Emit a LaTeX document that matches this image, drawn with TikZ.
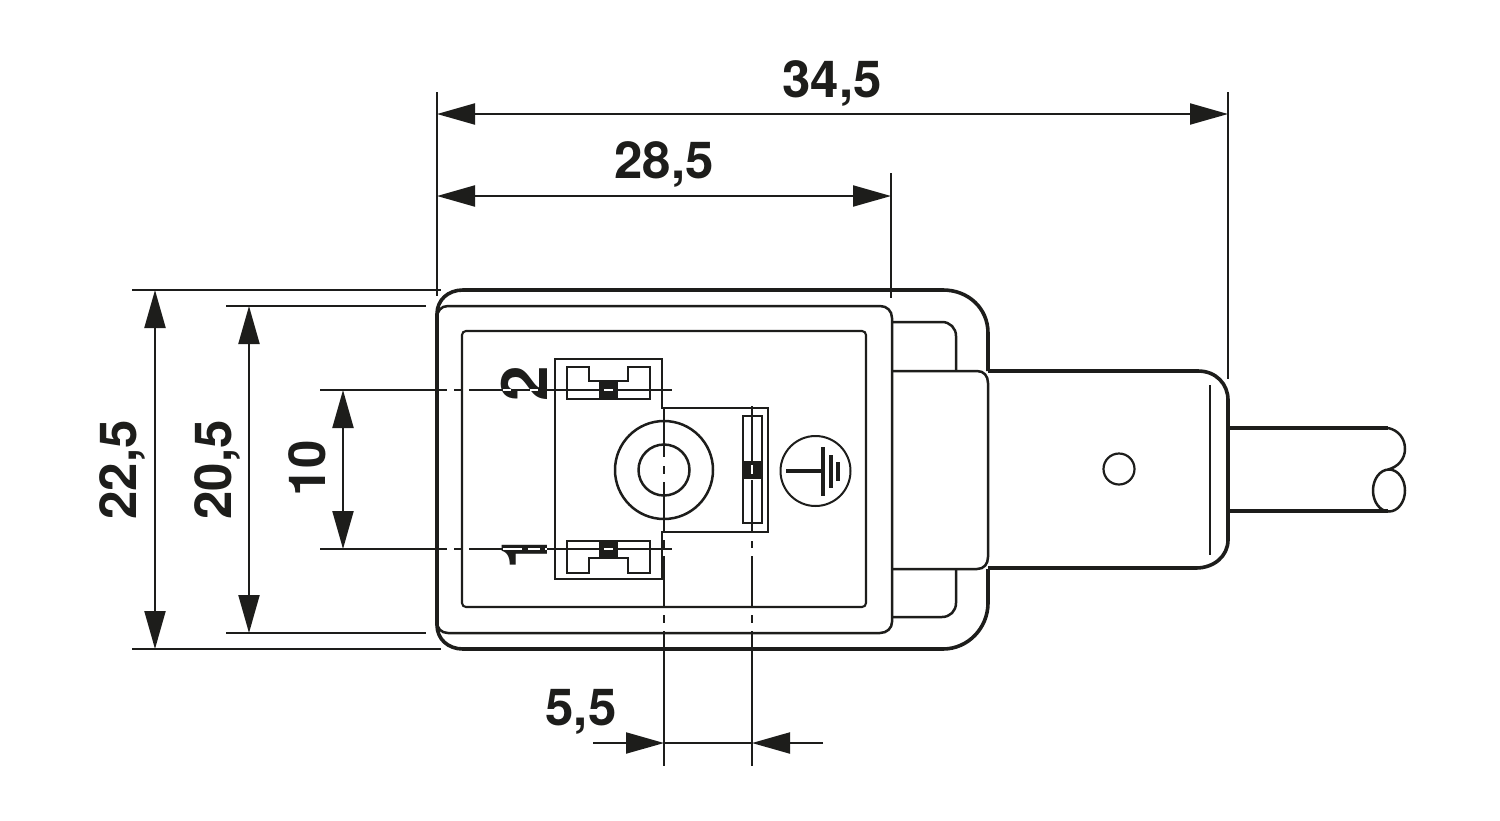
\documentclass[tikz,border=0pt]{standalone}
\usepackage{fontspec}
\setmainfont{TeX Gyre Heros}
\usetikzlibrary{arrows.meta}
\definecolor{ink}{HTML}{1D1D1B}
\newcommand{\dimfont}{\fontsize{51}{51}\selectfont\bfseries}
\newcommand{\pinfont}{\fontsize{64}{64}\selectfont\bfseries}
\tikzset{
  thickline/.style={draw=ink,line width=3.6pt},
  midline/.style={draw=ink,line width=2.5pt},
  thinline/.style={draw=ink,line width=2.1pt},
  dimline/.style={draw=ink,line width=2.1pt},
  dimtip/.style={{Triangle[length=38pt,width=21pt,color=ink]}-{Triangle[length=38pt,width=21pt,color=ink]},dimline,shorten >=0pt,shorten <=0pt},
  onetip/.style={-{Triangle[length=38pt,width=21pt,color=ink]},dimline},
  dimlabel/.style={font=\dimfont,text=ink,inner sep=0pt,anchor=base},
  pinlabel/.style={font=\pinfont,text=ink,inner sep=0pt,anchor=base,rotate=90},
  gapmark/.style={draw=white,line width=1.3pt},
}
\begin{document}
\begin{tikzpicture}[x=1pt,y=-1pt]
\useasboundingbox (0,0) rectangle (1500,820);
\fill[white] (0,0) rectangle (1500,820);

% ---- labels
\node[dimlabel] (L345) at (832,97) {34,5};
\node[dimlabel] (L285) at (664,178) {28,5};
\node[dimlabel] (L55) at (581,725) {5,5};
\node[dimlabel,rotate=90] (L225) at (136,470) {22,5};
\node[dimlabel,rotate=90] (L205) at (231,470) {20,5};
\node[dimlabel,rotate=90] (L10) at (325,468) {10};
\node[pinlabel] (P2) at (547.5,383.5) {2};
\node[pinlabel] (P1) at (547.5,552) {1};

% ---- named dimension points
\coordinate (xa) at (437,92);  \coordinate (xaa) at (437,296);
\coordinate (xb) at (891,173); \coordinate (xbb) at (891,298);
\coordinate (xc) at (1228,92); \coordinate (xcc) at (1228,379);
\coordinate (d1a) at (437,114); \coordinate (d1b) at (1228,114);
\coordinate (d2a) at (437,196); \coordinate (d2b) at (891,196);
\coordinate (e1a) at (132,290); \coordinate (e1b) at (441,290);
\coordinate (e2a) at (226,306); \coordinate (e2b) at (426,306);
\coordinate (e3a) at (226,633); \coordinate (e3b) at (426,633);
\coordinate (e4a) at (132,649); \coordinate (e4b) at (441,649);
\coordinate (v1a) at (155,290); \coordinate (v1b) at (155,649);
\coordinate (v2a) at (249,306); \coordinate (v2b) at (249,633);
\coordinate (v3a) at (343,390); \coordinate (v3b) at (343,549);
\coordinate (h1) at (593,743); \coordinate (h2) at (664,743);
\coordinate (h3) at (752,743); \coordinate (h4) at (823,743);

% ---- dimension lines
\draw[dimline] (xa) -- (xaa);
\draw[dimline] (xb) -- (xbb);
\draw[dimline] (xc) -- (xcc);
\draw[dimtip] (d1a) -- (d1b);
\draw[dimtip] (d2a) -- (d2b);
\draw[dimline] (e1a) -- (e1b);
\draw[dimline] (e2a) -- (e2b);
\draw[dimline] (e3a) -- (e3b);
\draw[dimline] (e4a) -- (e4b);
\draw[dimtip] (v1a) -- (v1b);
\draw[dimtip] (v2a) -- (v2b);
\draw[dimtip] (v3a) -- (v3b);
\draw[onetip] (h1) -- (h2);
\draw[onetip] (h4) -- (h3);
\draw[dimline] (h2) -- (h3);

% ---- housing
\draw[thickline] (988,371) -- (988,333) .. controls (988,308) and (968,290) .. (943,290)
  -- (463,290) .. controls (448,290) and (437,300) .. (437,314)
  -- (437,625) .. controls (437,639) and (448,649) .. (463,649)
  -- (943,649) .. controls (968,649) and (988,628) .. (988,603) -- (988,569);
\draw[midline] (437,318) .. controls (437,311) and (441,306) .. (448,306)
  -- (880,306) .. controls (887,306) and (892,311) .. (892,318)
  -- (892,622) .. controls (892,628) and (887,633) .. (880,633)
  -- (448,633) .. controls (441,633) and (437,628) .. (437,622);
\draw[thinline,rounded corners=4pt] (462,331) rectangle (866,607);
\draw[midline] (892,322) -- (942,322) .. controls (950,322) and (956,328) .. (956,336) -- (956,371);
\draw[midline] (892,617) -- (942,617) .. controls (950,617) and (956,611) .. (956,603) -- (956,569);
\draw[midline] (892,371) -- (977,371) .. controls (984,371) and (988,376) .. (988,383)
  -- (988,557) .. controls (988,564) and (984,569) .. (977,569) -- (892,569);

% ---- rear part and cable
\draw[thickline] (988,371) -- (1198,371) .. controls (1216,371) and (1228,384) .. (1228,400)
  -- (1228,540) .. controls (1228,556) and (1214,568) .. (1196,568) -- (988,568);
\draw[thinline] (1210,385) -- (1210,555);
\draw[draw=ink,line width=2.2pt] (1119,469) circle[radius=15.5];
\draw[thickline] (1228,428) -- (1388,428);
\draw[thickline] (1228,511) -- (1388,511);
\draw[midline] (1388,428) .. controls (1398,430) and (1405,438) .. (1405,449)
  .. controls (1405,459) and (1398,467) .. (1388,469.5);
\draw[midline] (1389,490.5) ellipse[x radius=16, y radius=21];

% ---- pin block
\draw[midline] (555,359) -- (662,359) -- (662,408) -- (768,408) -- (768,532) -- (662,532) -- (662,579) -- (555,579) -- cycle;
\draw[midline] (567,367) -- (589,367) -- (589,381) -- (628,381) -- (628,367) -- (650,367) -- (650,399) -- (567,399) -- cycle;
\draw[midline] (567,573) -- (589,573) -- (589,558) -- (628,558) -- (628,573) -- (650,573) -- (650,541) -- (567,541) -- cycle;
\draw[midline] (743,416) rectangle (762,523);
\draw[midline] (664,470) circle[radius=49];
\draw[midline] (664,470) circle[radius=25.5];
\fill[ink] (599,381) rectangle (618,399);
\fill[ink] (599,541) rectangle (618,558);
\fill[ink] (743,461) rectangle (762,479);

% ---- centre lines
\draw[thinline] (320,390) -- (447,390) (454,390) -- (462,390) (469,390) -- (672,390);
\draw[thinline] (320,549) -- (447,549) (454,549) -- (462,549) (469,549) -- (672,549);
\draw[thinline] (664,408) -- (664,457) (664,466) -- (664,474) (664,482) -- (664,532)
  (664,540) -- (664,548) (664,556) -- (664,607) (664,615) -- (664,623) (664,631) -- (664,766);
\draw[thinline] (752,406) -- (752,463) (752,480) -- (752,533)
  (752,541) -- (752,548) (752,556) -- (752,607) (752,615) -- (752,623) (752,631) -- (752,766);

% ---- light gaps in the solid areas
\draw[gapmark] (604,390) -- (613,390) (604,549) -- (613,549) (752,465) -- (752,474);
\draw[gapmark] (503,390) -- (511,390) (530,390) -- (538,390);
\draw[gapmark] (503,549) -- (522,549) (528,549) -- (540,549) (545,549) -- (547,549);

% ---- earth symbol
\draw[draw=ink,line width=2pt] (815.5,471) circle[radius=35];
\draw[draw=ink,line width=3.2pt] (786,471) -- (823,471);
\draw[draw=ink,line width=3.8pt] (823,447) -- (823,496);
\draw[draw=ink,line width=3.8pt] (831,455) -- (831,488);
\draw[draw=ink,line width=3.8pt] (838,462) -- (838,481);
\end{tikzpicture}
\end{document}
